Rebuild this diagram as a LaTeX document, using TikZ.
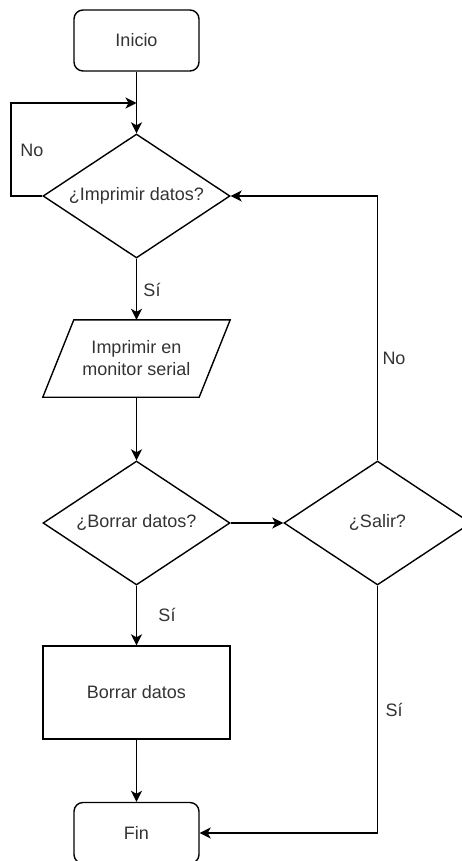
\documentclass[tikz,border=0pt]{standalone}
\usepackage{fontspec}
\setmainfont{Liberation Sans}
\usetikzlibrary{shapes.geometric,arrows.meta,calc}
\definecolor{txt}{HTML}{333333}
\tikzset{
  x=1pt, y=-1pt,
  every node/.style={font=\fontsize{18}{22}\selectfont, text=txt},
  flow/.style={line width=1.5pt, -{Stealth[length=11pt,width=11pt,inset=3pt]}},
  terminal/.style={draw, line width=1.4pt, rounded corners=9pt, minimum width=125pt, minimum height=61pt, inner sep=0pt},
  decision/.style={draw, line width=1.4pt, diamond, aspect=1.508, minimum width=187pt, minimum height=124pt, inner sep=0pt},
  process/.style={draw, line width=1.4pt, minimum width=187pt, minimum height=93pt, inner sep=0pt},
  iobox/.style={minimum width=187pt, minimum height=77pt, inner sep=0pt, align=center},
  lbl/.style={inner sep=0pt}
}
\begin{document}
\begin{tikzpicture}
\useasboundingbox (0,0) rectangle (462,861);

% boxes
\node[terminal] (inicio) at (136.5,40.5) {Inicio};
\node[decision] (imp) at (136.5,196) {¿Imprimir datos?};
\node[iobox] (par) at (136.5,358.5) {Imprimir en\\monitor serial};
\draw[line width=1.4pt] ($(par.north west)+(31,0)$) -- (par.north east)
  -- ($(par.south east)-(31,0)$) -- (par.south west) -- cycle;
\node[decision] (borrar) at (136.5,523) {¿Borrar datos?};
\node[decision] (salir) at (377.5,523) {¿Salir?};
\node[process] (bd) at (136.5,692.5) {Borrar datos};
\node[terminal] (fin) at (136.5,833) {Fin};

% junction where the "No" loop re-enters
\coordinate (loopin) at (136.5,103);
\coordinate (loopcorner) at (11,103);

% connectors
\draw[flow] (inicio.south) -- (imp.north);
\draw[flow] (imp.west) -- (11,196) -- (loopcorner) -- (loopin);
\draw[flow] (imp.south) -- (par.north);
\draw[flow] (par.south) -- (borrar.north);
\draw[flow] (borrar.east) -- (salir.west);
\draw[flow] (borrar.south) -- (bd.north);
\draw[flow] (bd.south) -- (fin.north);
\draw[flow] (salir.north) |- (imp.east);
\draw[flow] (salir.south) |- (fin.east);

% branch labels
\node[lbl] (no1) at (32,150) {No};
\node[lbl] (si1) at (152,290) {Sí};
\node[lbl] (si2) at (167,615) {Sí};
\node[lbl] (no2) at (394,358) {No};
\node[lbl] (si3) at (394,710) {Sí};
\end{tikzpicture}
\end{document}
